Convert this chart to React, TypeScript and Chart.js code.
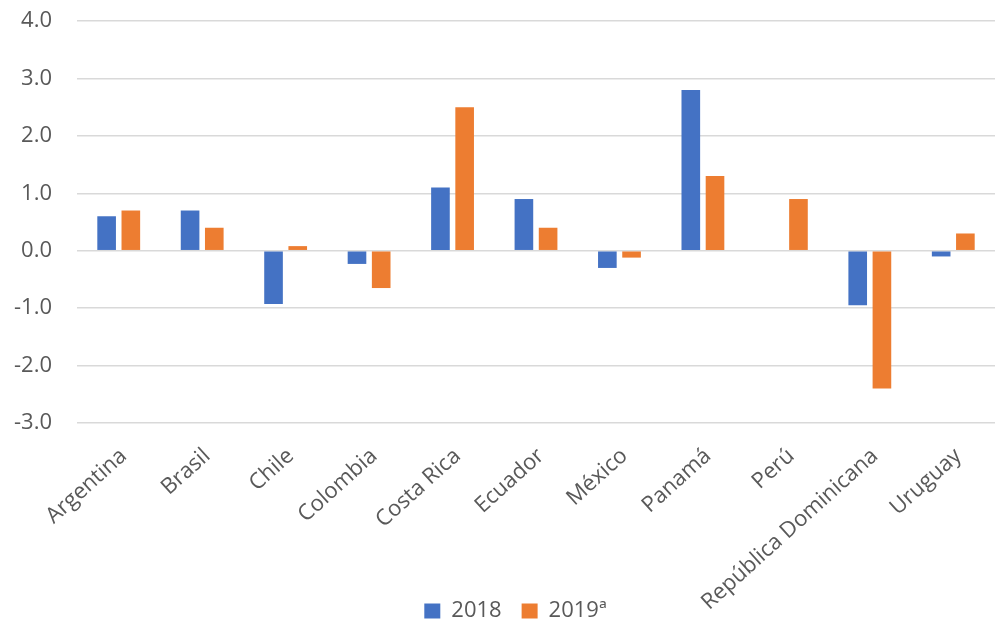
import React, { useEffect, useRef } from "react";
import { Chart, registerables } from "chart.js";

Chart.register(...registerables);

const categories = [
  "Argentina",
  "Brasil",
  "Chile",
  "Colombia",
  "Costa Rica",
  "Ecuador",
  "México",
  "Panamá",
  "Perú",
  "República Dominicana",
  "Uruguay",
];
const values2018 = [0.6, 0.7, -0.93, -0.23, 1.1, 0.9, -0.3, 2.8, null, -0.95, -0.1];
const values2019 = [0.7, 0.4, 0.08, -0.65, 2.5, 0.4, -0.12, 1.3, 0.9, -2.4, 0.3];
const seriesLabels = ["2018", "2019ª"];
const yMin = -3;
const yMax = 4;

const FONT = "'Open Sans', 'DejaVu Sans', sans-serif";
const LEGEND_CENTER_Y = 611;
const LEGEND_SHIFT_X = 18;
const LEGEND_PAD = 20;
const LEGEND_FONT = 22;

const layoutFix = {
  id: "layoutFix",
  afterLayout(chart: any) {
    const x = chart.scales.x;
    if (x) x.bottom = chart.height;
    const lg = chart.legend;
    if (lg) {
      const h = lg.height;
      const top = LEGEND_CENTER_Y - LEGEND_PAD - LEGEND_FONT / 2;
      lg.top = top;
      lg.bottom = top + h;
      lg.left += LEGEND_SHIFT_X;
      lg.right += LEGEND_SHIFT_X;
    }
  },
};

export default function App() {
  const ref = useRef<HTMLCanvasElement | null>(null);

  useEffect(() => {
    document.body.style.margin = "0";
    const canvas = ref.current;
    if (!canvas) return;
    const chart = new Chart(canvas, {
      type: "bar",
      data: {
        labels: categories,
        datasets: [
          {
            label: seriesLabels[0],
            data: values2018,
            backgroundColor: "#4472C4",
            borderColor: "#4472C4",
            borderWidth: 0,
            categoryPercentage: 0.58,
            barPercentage: 0.77,
          },
          {
            label: seriesLabels[1],
            data: values2019,
            backgroundColor: "#ED7D31",
            borderColor: "#ED7D31",
            borderWidth: 0,
            categoryPercentage: 0.58,
            barPercentage: 0.77,
          },
        ],
      },
      plugins: [layoutFix],
      options: {
        responsive: false,
        animation: false,
        maintainAspectRatio: false,
        layout: { padding: { top: 21, right: 0, left: 0, bottom: 0 } },
        plugins: {
          tooltip: { enabled: false },
          legend: {
            position: "bottom",
            labels: {
              font: { family: FONT, size: LEGEND_FONT },
              color: "#595959",
              boxWidth: 16,
              boxHeight: 15,
              padding: LEGEND_PAD,
            },
          },
        },
        scales: {
          x: {
            grid: { display: false, drawTicks: false },
            border: { display: false },
            ticks: {
              font: { family: FONT, size: 22 },
              color: "#595959",
              maxRotation: 42,
              minRotation: 42,
              autoSkip: false,
              padding: 20,
              labelOffset: 5,
            },
            afterFit: (scale: any) => {
              scale.height = 147;
              scale.paddingLeft = 0;
              scale.paddingRight = 0;
            },
          },
          y: {
            min: yMin,
            max: yMax,
            grid: { color: "#D9D9D9", lineWidth: 1.5, drawTicks: false },
            border: { display: false },
            ticks: {
              stepSize: 1,
              font: { family: FONT, size: 22 },
              color: "#595959",
              padding: 25,
              callback: (v: any) => Number(v).toFixed(1),
            },
            afterFit: (scale: any) => {
              scale.width = 77;
              scale.paddingTop = 0;
              scale.paddingBottom = 0;
            },
          },
        },
      },
    });
    return () => chart.destroy();
  }, []);

  return (
    <div style={{ width: 995, height: 622, background: "#fff" }}>
      <canvas ref={ref} width={995} height={622} style={{ display: "block" }} />
    </div>
  );
}
